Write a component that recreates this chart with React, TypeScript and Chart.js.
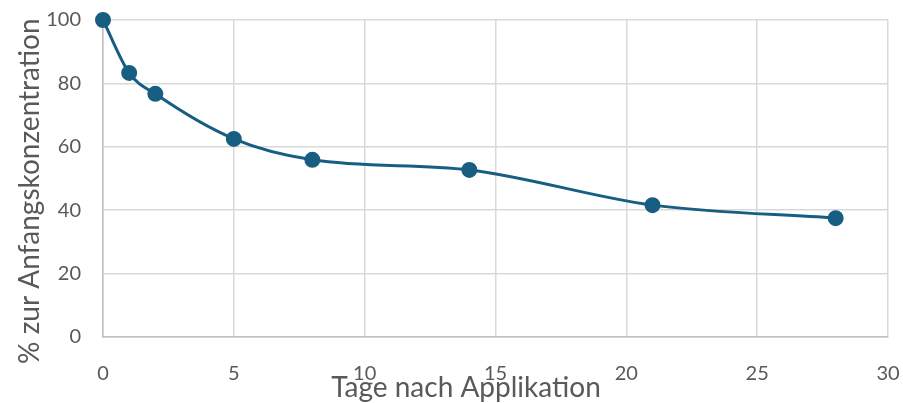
import React, { useEffect, useRef } from "react";
import { Chart, registerables } from "chart.js";

Chart.register(...registerables);

const days = [0, 1, 2, 5, 8, 14, 21, 28];
const percent = [100, 83.3, 76.7, 62.5, 55.9, 52.7, 41.6, 37.5];
const chartTitle = "Verringerung";
const xTitle = "Tage nach Applikation";
const yTitle = "% zur Anfangskonzentration";

const TEXT = "#595959";
const LINE = "#175e82";
const FONT = "Lato";

const axisTitles = {
  id: "axisTitles",
  afterDraw(chart: any) {
    const ctx = chart.ctx;
    const area = chart.chartArea;
    ctx.save();
    ctx.fillStyle = TEXT;
    ctx.textAlign = "center";
    ctx.textBaseline = "middle";
    ctx.font = `28px ${FONT}`;
    ctx.fillText(xTitle, area.left + (area.right - area.left) * 0.4624, area.bottom + 51);
    ctx.translate(30, area.top + (area.bottom - area.top) * 0.54);
    ctx.rotate(-Math.PI / 2);
    ctx.fillText(yTitle, 0, 0);
    ctx.restore();
  },
};

export default function App() {
  const ref = useRef<HTMLCanvasElement>(null);
  useEffect(() => {
    document.body.style.margin = "0";
    const chart = new Chart(ref.current!, {
      type: "line",
      data: {
        datasets: [
          {
            data: days.map((d, i) => ({ x: d, y: percent[i] })),
            borderColor: LINE,
            backgroundColor: LINE,
            borderWidth: 3,
            pointRadius: 6.5,
            pointBackgroundColor: LINE,
            pointBorderColor: LINE,
            tension: 0.4,
            cubicInterpolationMode: "monotone",
            clip: false,
          },
        ],
      },
      options: {
        responsive: false,
        animation: false,
        layout: { padding: { left: 0, right: 0, top: 0, bottom: 0 } },
        plugins: {
          legend: { display: false },
          tooltip: { enabled: false },
          title: {
            display: true,
            text: chartTitle,
            color: TEXT,
            font: { family: FONT, size: 24, weight: "normal" },
            padding: { top: 4, bottom: 17.2 },
          },
        },
        scales: {
          x: {
            type: "linear",
            min: 0,
            max: 30,
            ticks: { stepSize: 5, color: TEXT, font: { family: FONT, size: 20 }, padding: 25 },
            grid: { color: "#d9d9d9", lineWidth: 1.5, drawTicks: false },
            border: { color: "#bfbfbf", width: 1.5 },
            afterFit(scale: any) {
              scale.height = 66;
              scale.paddingLeft = 0;
              scale.paddingRight = 15;
            },
          },
          y: {
            min: 0,
            max: 100,
            ticks: { stepSize: 20, color: TEXT, font: { family: FONT, size: 20 }, padding: 22 },
            grid: { color: "#d9d9d9", lineWidth: 1.5, drawTicks: false },
            border: { color: "#bfbfbf", width: 1.5 },
            afterFit(scale: any) {
              scale.width = 103;
            },
          },
        },
      },
      plugins: [axisTitles],
    });
    return () => chart.destroy();
  }, []);
  return (
    <div style={{ position: "fixed", left: 0, top: 0, width: 903, height: 403, overflow: "hidden", background: "#fff" }}>
      <canvas ref={ref} width={903} height={433} style={{ position: "absolute", left: 0, top: -30 }} />
    </div>
  );
}
